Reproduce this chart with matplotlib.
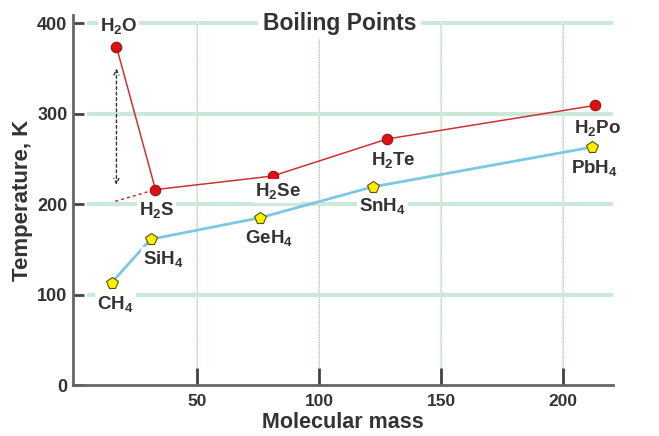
import matplotlib
matplotlib.use("Agg")
import matplotlib.pyplot as plt

plt.rcParams['font.family'] = ['Liberation Sans', 'DejaVu Sans']
plt.rcParams['font.weight'] = 'bold'
plt.rcParams['mathtext.fontset'] = 'custom'
plt.rcParams['mathtext.rm'] = 'Liberation Sans:bold'
plt.rcParams['mathtext.default'] = 'rm'

# Group 16 hydrides
h_mass = [17, 33, 81, 128, 213]
h_temp = [374, 216, 231, 272, 309]
h_names = [r'H$_2$O', r'H$_2$S', r'H$_2$Se', r'H$_2$Te', r'H$_2$Po']

# Group 14 hydrides
c_mass = [15, 31, 76, 122, 212]
c_temp = [113, 161, 185, 219, 263]
c_names = [r'CH$_4$', r'SiH$_4$', r'GeH$_4$', r'SnH$_4$', r'PbH$_4$']

# extrapolation / arrow
extrap_mass = [16.5, 33]
extrap_temp = [203, 216]
arrow_mass = 17
arrow_top, arrow_bot = 353, 216

xticks = [50, 100, 150, 200]
yticks = [0, 100, 200, 300, 400]

fig = plt.figure(figsize=(6.59, 4.36), dpi=100)
ax = fig.add_axes([73/659, 51/436, (615-73)/659, (385-15)/436])
ax.set_xlim(-0.8, 221.3)
ax.set_ylim(0, 409)

grid_green = '#cce8d8'
for y in yticks[1:]:
    ax.plot([5, 220.5], [y, y], color=grid_green, lw=3, zorder=0, solid_capstyle='butt')
for x in xticks:
    ax.plot([x, x], [0, 400], color='#dcefe3', lw=1.4, zorder=0)
    ax.plot([x, x], [0, 400], color='#b8b8b8', lw=0.6, ls=(0, (1, 2)), zorder=0)

ax.plot(c_mass, c_temp, color='#7cc8e2', lw=2, zorder=2)
ax.plot(c_mass, c_temp, ls='none', marker='p', ms=8.5, mfc='#ffee00', mec='#555500', mew=0.8, zorder=4)
ax.plot(h_mass, h_temp, color='#cc3333', lw=1.1, zorder=3)
ax.plot(h_mass, h_temp, ls='none', marker='o', ms=7.5, mfc='#dd1111', mec='#991111', mew=0.8, zorder=4)
ax.plot(extrap_mass, extrap_temp, color='#cc3333', lw=1.1, ls=(0, (2, 2)), zorder=3)
ax.annotate('', xy=(arrow_mass, arrow_bot + 2), xytext=(arrow_mass, arrow_top),
            arrowprops=dict(arrowstyle='<->', ls=(0, (2, 2)), color='#333333', lw=1,
                            mutation_scale=9), zorder=3)

bbox = dict(boxstyle='square,pad=0.1', fc='white', ec='none')
h_off = [(0.8, 23), (0.4, -23), (2, -16.5), (2.5, -23), (1.2, -25)]
c_off = [(1.6, -23), (5.3, -22), (3.7, -23), (4, -21), (1, -23)]
for name, x, y, (dx, dy) in zip(h_names, h_mass, h_temp, h_off):
    ax.text(x + dx, y + dy, name, ha='center', va='center', fontsize=13.5,
            color='#333333', bbox=bbox, zorder=5)
for name, x, y, (dx, dy) in zip(c_names, c_mass, c_temp, c_off):
    ax.text(x + dx, y + dy, name, ha='center', va='center', fontsize=13.5,
            color='#333333', bbox=bbox, zorder=5)

ax.text(108.5, 400, 'Boiling Points', ha='center', va='center', fontsize=16.5,
        fontweight='bold', color='#333333',
        bbox=dict(boxstyle='square,pad=0.2', fc='white', ec='none'), zorder=5)

for s in ['top', 'right']:
    ax.spines[s].set_visible(False)
for s in ['left', 'bottom']:
    ax.spines[s].set_color('#666666')
    ax.spines[s].set_linewidth(2)
ax.spines['left'].set_bounds(0, 409)
ax.spines['bottom'].set_bounds(-0.8, 220.5)

ax.set_xticks(xticks)
ax.set_yticks(yticks)
ax.tick_params(axis='x', direction='in', length=12, width=2, color='#444444',
               labelsize=12.5, labelcolor='#333333', pad=6.5)
ax.tick_params(axis='y', direction='in', length=8, width=2, color='#444444',
               labelsize=13, labelcolor='#333333', pad=4)
for lab in ax.get_xticklabels() + ax.get_yticklabels():
    lab.set_fontweight('bold')

ax.set_xlabel('Molecular mass', fontsize=15.5, fontweight='bold', color='#333333', va='center')
ax.xaxis.set_label_coords(0.498, (385 - 422) / 370)
ax.set_ylabel('Temperature, K', fontsize=16, fontweight='bold', color='#333333', labelpad=3)

fig.savefig('out.png', dpi=100)
